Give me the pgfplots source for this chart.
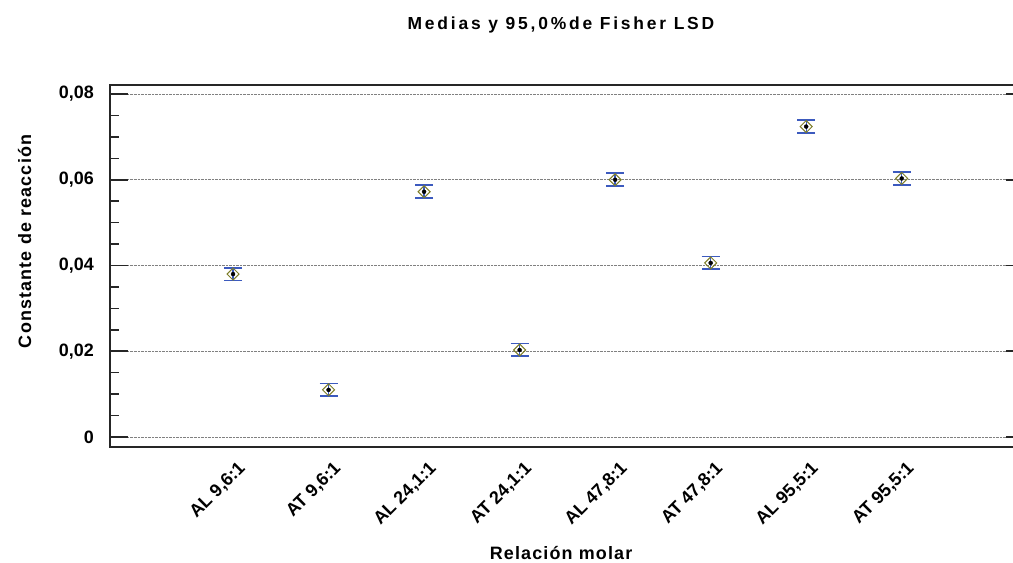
\documentclass[border=0pt]{standalone}
\usepackage{pgfplots}
\pgfplotsset{compat=1.18}
\usepackage{fontspec}
\setmainfont{Liberation Sans}
\newfontfamily\titlefont[LetterSpace=16]{Liberation Sans}
\newfontfamily\labelfont[LetterSpace=6.5]{Liberation Sans}
\definecolor{barblue}{RGB}{60,90,190}
\definecolor{olivem}{RGB}{125,125,40}
\begin{document}
\begin{tikzpicture}
\begin{axis}[
  scale only axis,
  width=914bp, height=362bp,
  xmin=-1.288, xmax=8.28,
  ymin=-0.00233, ymax=0.0821,
  scaled y ticks=false,
  xtick={0,1,2,3,4,5,6,7},
  xticklabels={{AL 9,6:1}, {AT 9,6:1}, {AL 24,1:1}, {AT 24,1:1}, {AL 47,8:1}, {AT 47,8:1}, {AL 95,5:1}, {AT 95,5:1}},
  x tick label style={xshift=4bp, yshift=-13bp, rotate=45, anchor=north east, inner sep=0pt, font=\fontsize{18}{20}\selectfont\bfseries},
  ytick={0,0.02,0.04,0.06,0.08},
  yticklabels={0,{0,02},{0,04},{0,06},{0,08}},
  minor ytick={0.005,0.01,0.015,0.025,0.03,0.035,0.045,0.05,0.055,0.065,0.07,0.075},
  y tick label style={anchor=east, inner sep=0pt, xshift=-16bp, font=\fontsize{18}{20}\selectfont\bfseries},
  major x tick style={draw=none},
  ytick pos=both,
  major tick length=18bp, minor tick length=9bp,
  tick style={black!85, line width=1.6bp},
  ymajorgrids,
  grid style={densely dotted, gray, line width=0.8bp},
  axis line style={line width=1.6bp, black!85},
  title={\titlefont\fontsize{17.5}{19}\selectfont\bfseries Medias y 95,0\%de Fisher LSD},
  title style={at={(axis description cs:0.4934,1)}, anchor=base, yshift=50bp, inner sep=0pt},
  xlabel={\labelfont\fontsize{18}{20}\selectfont\bfseries Relación molar},
  xlabel style={at={(axis description cs:0.4935,0)}, anchor=base, yshift=-113bp, inner sep=0pt},
  ylabel={\labelfont\fontsize{18}{20}\selectfont\bfseries Constante de reacción},
  ylabel style={at={(axis description cs:-0.0864,0.568)}, anchor=base, rotate=0, inner sep=0pt},
]
\addplot[only marks, mark=none, forget plot,
  error bars/.cd, y dir=both, y explicit,
  error bar style={draw=barblue, line width=1.3bp},
  error mark=-,
  error mark options={draw=barblue, line width=1.8bp, mark size=9bp, rotate=90}]
coordinates {
(0,0.0380) +- (0,0.0015)
(1,0.0110) +- (0,0.0015)
(2,0.0572) +- (0,0.0015)
(3,0.0203) +- (0,0.0015)
(4,0.0600) +- (0,0.0015)
(5,0.0406) +- (0,0.0015)
(6,0.0724) +- (0,0.0015)
(7,0.0603) +- (0,0.0015)
};
\addplot[only marks, mark=diamond, mark size=5bp, mark options={draw=olivem, fill=none, line width=1bp, xscale=1.6, yscale=1.2}]
coordinates {
(0,0.0380)
(1,0.0110)
(2,0.0572)
(3,0.0203)
(4,0.0600)
(5,0.0406)
(6,0.0724)
(7,0.0603)
};
\end{axis}
\pgfresetboundingbox
\path[use as bounding box] ([xshift=-110bp,yshift=-116bp]current axis.south west) rectangle ([xshift=-11bp,yshift=85bp]current axis.north east);
\end{tikzpicture}
\end{document}
